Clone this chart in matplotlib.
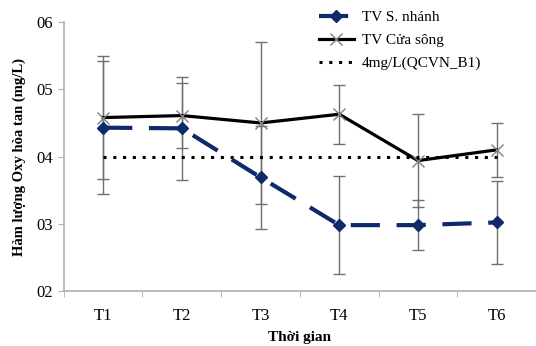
import numpy as np
import matplotlib.pyplot as plt

plt.rcParams['font.family'] = ['Liberation Serif', 'DejaVu Serif']

# data
periods = ['T1', 'T2', 'T3', 'T4', 'T5', 'T6']
nhanh = [4.43, 4.42, 3.69, 2.98, 2.98, 3.02]
nhanh_err = [0.99, 0.77, 0.77, 0.73, 0.37, 0.62]
cuasong = [4.58, 4.61, 4.50, 4.63, 3.94, 4.10]
cuasong_err = [0.92, 0.49, 1.20, 0.44, 0.69, 0.40]
qcvn = [4, 4, 4, 4, 4, 4]
yticks = [2, 3, 4, 5, 6]
ytick_labels = ['02', '03', '04', '05', '06']

x = np.arange(len(periods))

fig = plt.figure(figsize=(5.36, 3.46), dpi=100)
ax = fig.add_axes([0.119, 0.159, 0.881, 0.777])

ax.errorbar(x, nhanh, yerr=nhanh_err, fmt='none', ecolor='#707070',
            elinewidth=1, capsize=4, capthick=1, zorder=2)
ax.errorbar(x, cuasong, yerr=cuasong_err, fmt='none', ecolor='#707070',
            elinewidth=1, capsize=4, capthick=1, zorder=2)

ax.plot(x, nhanh, color='#0d2a6b', lw=3, dashes=(7, 4), marker='D',
        markersize=6, label='TV S. nhánh', zorder=4)
ax.plot(x, cuasong, color='black', lw=2.3, marker='x', markersize=9,
        markeredgecolor='#808080', markeredgewidth=1, label='TV Cửa sông', zorder=3)
ax.plot(x, qcvn, color='black', lw=2.2, linestyle=(0, (1, 2.2)),
        label='4mg/L(QCVN_B1)', zorder=3)

ax.set_xlim(-0.5, 5.5)
ax.set_ylim(2, 6)
ax.set_xticks(x)
ax.set_xticklabels(periods, fontsize=12)
ax.set_xticks(np.arange(-0.5, 6, 1), minor=True)
ax.tick_params(axis='x', which='major', length=0, pad=12)
ax.tick_params(axis='x', which='minor', length=4, color='#b0b0b0')
ax.set_yticks(yticks)
ax.set_yticklabels(ytick_labels, fontsize=12)
ax.tick_params(axis='y', length=4, color='#b0b0b0')

for s in ['top', 'right']:
    ax.spines[s].set_visible(False)
for s in ['left', 'bottom']:
    ax.spines[s].set_color('#b0b0b0')
    ax.spines[s].set_linewidth(1.2)

ax.set_xlabel('Thời gian', fontsize=11, fontweight='bold', labelpad=5)
ax.set_ylabel('Hàm lượng Oxy hòa tan (mg/L)', fontsize=10.5, fontweight='bold', labelpad=8)

ax.legend(loc='upper left', bbox_to_anchor=(0.575, 1.0), bbox_transform=fig.transFigure,
          frameon=False, fontsize=11, handlelength=2.3, handletextpad=0.5,
          labelspacing=0.6, borderaxespad=0.3)

fig.savefig('out.png', dpi=100)
